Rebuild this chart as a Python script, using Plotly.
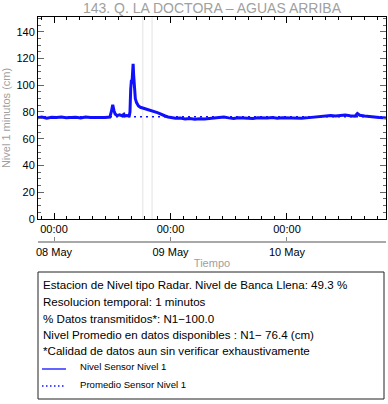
import plotly.graph_objects as go
import pandas as pd

# ---------------- data ----------------
base_time = "2024-05-08 00:00"
# hours relative to 08 May 00:00
hours = [-3.3, -2.5, -1.5, -0.5, 0.5, 1.5, 2.5, 3.5, 4.5, 5.5, 6.5, 7.5, 8.5, 9.5,
         10.5, 11.5, 11.8, 12.1, 12.35, 12.6, 13.0, 13.5, 14.0, 14.4, 14.6, 15.0,
         15.5, 15.65, 15.8, 15.95, 16.05, 16.2, 16.3, 16.4, 16.55, 16.75, 17.0,
         17.4, 17.8, 18.3, 18.8, 19.3, 19.8, 20.3, 20.8, 21.3, 21.8, 22.3, 22.9,
         23.5, 24.3, 25, 26, 27, 28, 29, 30, 31, 32, 33, 34, 35, 36, 37, 38, 39,
         40, 41, 42, 43, 44, 45, 46, 47, 48, 49, 50, 51, 52, 53, 54, 55, 56, 57,
         58, 59, 60, 61, 62, 62.5, 63, 64, 65, 66, 67, 68, 68.4]
nivel = [75.6, 76.2, 75.4, 76.0, 75.8, 76.3, 75.7, 76.1, 76.0, 75.6, 76.2, 75.9, 76.1, 75.8,
         75.8, 76.2, 80.0, 85.3, 81.0, 78.5, 77.3, 77.8, 77.2, 78.3, 77.0, 77.4,
         77.1, 80.0, 97.0, 104.0, 101.0, 110.0, 116.0, 108.0, 98.0, 90.0, 87.0,
         84.5, 83.5, 83.0, 82.5, 81.5, 81.0, 80.5, 80.0, 79.5, 78.8, 77.8, 77.0,
         76.3, 75.8, 75.3, 75.5, 74.8, 75.2, 74.6, 75.0, 74.7, 75.1, 75.4, 75.8, 76.2, 75.6, 75.2, 75.6, 75.3,
         75.5, 75.2, 75.6, 75.4, 75.5, 75.8, 75.3, 75.6, 75.5, 75.3, 75.7, 75.4, 75.6, 76.0, 76.3, 76.7, 77.0, 77.3,
         77.0, 77.6, 77.8, 77.2, 76.8, 78.8, 77.5, 77.0, 76.5, 76.2, 75.8, 75.6, 75.5]
promedio = 76.4
x_start = "2024-05-07 20:42"
x_end = "2024-05-10 20:24"
marker_times = ["2024-05-08 18:18", "2024-05-08 20:12"]

title_text = "143. Q. LA DOCTORA \u2013 AGUAS ARRIBA"
y_title = "Nivel 1 minutos (cm)"
x_title = "Tiempo"
info_lines = [
    "Estacion de Nivel tipo Radar. Nivel de Banca Llena: 49.3 %",
    "Resolucion temporal: 1 minutos",
    "% Datos transmitidos*: N1\u2212100.0",
    "Nivel Promedio en datos disponibles : N1\u2212 76.4 (cm)",
    "*Calidad de datos aun sin verificar exhaustivamente",
]
legend_labels = ["Nivel Sensor Nivel 1", "Promedio Sensor Nivel 1"]

# ---------------- figure ----------------
t0 = pd.Timestamp(base_time)
times = [t0 + pd.Timedelta(hours=h) for h in hours]

FONT = "Liberation Sans, Arial, Helvetica, sans-serif"
W, H = 388, 404
L, R, T, B_PAPER = 38, 386, 17, 242
PW, PH = R - L, B_PAPER - T


def px(xp):
    return (xp - L) / PW


def py(yp):
    return (B_PAPER - yp) / PH


fig = go.Figure()
fig.add_trace(go.Scatter(x=times, y=nivel, mode="lines",
                         line=dict(color="#1010ff", width=3),
                         showlegend=False, hoverinfo="skip"))
fig.add_trace(go.Scatter(x=[pd.Timestamp(x_start), pd.Timestamp(x_end)],
                         y=[promedio, promedio], mode="lines",
                         line=dict(color="#1010ff", width=1.5, dash="2px,4px"),
                         showlegend=False, hoverinfo="skip"))
fig.add_trace(go.Scatter(x=[pd.Timestamp(x_start)], y=[None], xaxis="x2",
                         mode="lines", showlegend=False, hoverinfo="skip"))

shapes = []
for mt in marker_times:
    shapes.append(dict(type="line", xref="x", yref="y domain", x0=mt, x1=mt,
                       y0=0, y1=1, line=dict(color="#e2e2e2", width=1), layer="below"))
# legend box
shapes.append(dict(type="rect", xref="paper", yref="paper",
                   x0=px(38), x1=px(384), y0=py(272), y1=py(399),
                   line=dict(color="#222", width=1)))
shapes.append(dict(type="line", xref="paper", yref="paper",
                   x0=px(42), x1=px(66), y0=py(369), y1=py(369),
                   line=dict(color="#1010ff", width=1.3)))
shapes.append(dict(type="line", xref="paper", yref="paper",
                   x0=px(42), x1=px(66), y0=py(386), y1=py(386),
                   line=dict(color="#1010ff", width=1.3, dash="1.5px,2.5px")))

annotations = []
for i, txt in enumerate(info_lines):
    yc = [284, 301, 318, 334, 350][i]
    annotations.append(dict(text=txt, xref="paper", yref="paper", x=px(41), y=py(yc),
                            xanchor="left", yanchor="middle", showarrow=False,
                            font=dict(family=FONT, size=11.6, color="#000")))
for i, txt in enumerate(legend_labels):
    yc = [366, 384][i]
    annotations.append(dict(text=txt, xref="paper", yref="paper", x=px(78), y=py(yc),
                            xanchor="left", yanchor="middle", showarrow=False,
                            font=dict(family=FONT, size=9.6, color="#000")))

ydom0 = (B_PAPER - 219) / PH

fig.update_layout(
    width=W, height=H,
    margin=dict(l=L, r=W - R, t=T, b=H - B_PAPER, pad=0, autoexpand=False),
    paper_bgcolor="white", plot_bgcolor="white",
    font=dict(family=FONT, size=11, color="#000"),
    title=dict(text=title_text, x=px(212), xref="paper", xanchor="center",
               y=1 - 8.5 / H, yref="container", yanchor="middle",
               font=dict(family=FONT, size=14, color="#a0a0a0")),
    shapes=shapes, annotations=annotations,
    xaxis=dict(type="date", range=[x_start, x_end], domain=[0, 1], automargin=False,
               showline=True, linecolor="#000", linewidth=1, mirror="ticks",
               ticks="inside", ticklen=6, tickcolor="#000",
               dtick=86400000, tick0=base_time, tickformat="%H:%M",
               tickfont=dict(size=11), showgrid=False, zeroline=False,
               minor=dict(dtick=9600000, tick0=base_time, ticks="inside", ticklen=3,
                          tickcolor="#000", showgrid=False)),
    xaxis2=dict(type="date", range=[x_start, x_end], overlaying="x", anchor="free",
                position=0, automargin=False, showline=True, linecolor="#a8a8a8", linewidth=2,
                ticks="inside", ticklen=4, tickcolor="#888",
                dtick=86400000, tick0=base_time, tickformat="%d %b",
                tickfont=dict(size=11), showgrid=False, zeroline=False,
                title=dict(text=x_title, standoff=1,
                           font=dict(family=FONT, size=11, color="#a0a0a0"))),
    yaxis=dict(range=[0, 151], domain=[ydom0, 1], automargin=False,
               showline=True, linecolor="#000", linewidth=1, mirror="ticks",
               ticks="inside", ticklen=6, tickcolor="#666",
               dtick=20, tickfont=dict(size=11), showgrid=False, zeroline=False,
               minor=dict(dtick=5, ticks="inside", ticklen=3, tickcolor="#666",
                          showgrid=False),
               title=dict(text=y_title, standoff=4,
                          font=dict(family=FONT, size=11, color="#a0a0a0"))),
)

fig.write_html("out.html", config={"displayModeBar": False},
               post_script="document.body.style.margin='0';document.body.style.overflow='hidden';")
